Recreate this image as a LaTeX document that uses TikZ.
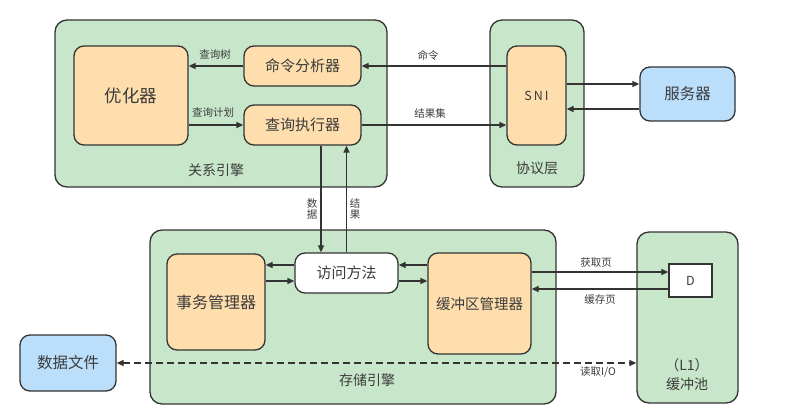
\documentclass[tikz,border=0pt]{standalone}
\usepackage{fontspec}
\setmainfont{Noto Sans CJK SC}
\usetikzlibrary{arrows.meta}
\definecolor{grn}{HTML}{C8E6C9}
\definecolor{org}{HTML}{FFDEAD}
\definecolor{blu}{HTML}{BBDEFB}
\definecolor{ln}{HTML}{333333}
\definecolor{tx}{HTML}{3C3C3C}
\tikzset{
  base/.style={draw=ln, line width=1.3pt, rounded corners=10pt, text=tx, inner sep=0pt},
  cont/.style={base, fill=grn, rounded corners=12pt},
  obox/.style={base, fill=org, font=\fontsize{15}{17}\selectfont},
  bbox/.style={base, fill=blu, font=\fontsize{15.5}{17}\selectfont},
  wbox/.style={base, fill=white, font=\fontsize{15}{17}\selectfont},
  arr/.style={draw=ln, line width=1.3pt, -{Triangle[length=7pt,width=6pt]}},
  lbl/.style={text=tx, font=\fontsize{10.5}{12}\selectfont, inner sep=0pt},
  clbl/.style={text=tx, font=\fontsize{14}{16}\selectfont, inner sep=0pt},
}
\begin{document}
\begin{tikzpicture}[x=1pt,y=-1pt]
\useasboundingbox (0,0) rectangle (792,420);
% containers
\node[cont, minimum width=332pt, minimum height=167pt] (rel) at (221,103.5) {};
\node[cont, minimum width=94pt, minimum height=167pt] (proto) at (537,103.5) {};
\node[cont, minimum width=406pt, minimum height=174pt] (store) at (353,317) {};
\node[cont, minimum width=101pt, minimum height=171pt] (pool) at (687.5,317.5) {};
% container labels
\node[clbl] (relL) at (216,170) {关系引擎};
\node[clbl] (protoL) at (537,168) {协议层};
\node[clbl] (storeL) at (367,380) {存储引擎};
\node[clbl] (poolL1) at (687,365) {（L1）};
\node[clbl] (poolL2) at (687,384) {缓冲池};
% boxes
\node[obox, minimum width=114pt, minimum height=99pt, font=\fontsize{17.5}{19}\selectfont] (opt) at (131,95.5) {优化器};
\node[obox, minimum width=117pt, minimum height=40pt] (cmd) at (302.5,66) {命令分析器};
\node[obox, minimum width=117pt, minimum height=40pt] (exe) at (302.5,125) {查询执行器};
\node[obox, minimum width=59pt, minimum height=99pt, font=\fontsize{12.5}{14}\selectfont] (sni) at (536.5,95.5) {S\,N\,I};
\node[bbox, minimum width=95pt, minimum height=54pt] (srv) at (687.5,94) {服务器};
\node[obox, minimum width=98pt, minimum height=96pt, font=\fontsize{16}{18}\selectfont] (tx) at (216,302) {事务管理器};
\node[wbox, minimum width=103pt, minimum height=40pt] (acc) at (346.5,273) {访问方法};
\node[obox, minimum width=103pt, minimum height=101pt, font=\fontsize{14.5}{16}\selectfont] (buf) at (479.5,303.5) {缓冲区管理器};
\node[draw=ln, line width=1.3pt, fill=white, text=tx, minimum width=43pt, minimum height=33pt, inner sep=0pt, font=\fontsize{12.5}{14}\selectfont] (D) at (690.5,280.5) {D};
\node[bbox, minimum width=96pt, minimum height=56pt] (file) at (68,363) {数据文件};
% connectors
\draw[arr] (sni.west |- cmd.east) -- (cmd.east);
\draw[arr] (exe.east) -- (exe.east -| sni.west);
\draw[arr] ([yshift=10pt]srv.west -| sni.east) -- ([yshift=10pt]srv.west);
\draw[arr] ([yshift=-15pt]srv.west) -- ([yshift=-15pt]srv.west -| sni.east);
\draw[arr] (cmd.west) -- (cmd.west -| opt.east);
\draw[arr] (opt.east |- exe.west) -- (exe.west);
\draw[arr] ([xshift=18.5pt]exe.south) -- ([xshift=18.5pt]exe.south |- acc.north);
\draw[arr] (acc.north) -- (acc.north |- exe.south);
\draw[arr] ([yshift=8pt]acc.west) -- ([yshift=8pt]acc.west -| tx.east);
\draw[arr] ([yshift=-8pt]acc.west -| tx.east) -- ([yshift=-8pt]acc.west);
\draw[arr] ([yshift=8pt]acc.east -| buf.west) -- ([yshift=8pt]acc.east);
\draw[arr] ([yshift=-8pt]acc.east) -- ([yshift=-8pt]acc.east -| buf.west);
\draw[arr] ([yshift=8.5pt]D.west -| buf.east) -- ([yshift=8.5pt]D.west);
\draw[arr] ([yshift=-8.5pt]D.west) -- ([yshift=-8.5pt]D.west -| buf.east);
\draw[arr, {Triangle[length=7pt,width=6pt]}-{Triangle[length=7pt,width=6pt]}, dash pattern=on 7pt off 4pt] (file.east) -- (file.east -| pool.west);
% connector labels
\node[lbl] (l1) at (428,55) {命令};
\node[lbl] (l2) at (430,113) {结果集};
\node[lbl] (l3) at (215,55) {查询树};
\node[lbl] (l4) at (213,113) {查询计划};
\node[lbl, align=center] (l5) at (312,209) {数\\[-1pt]据};
\node[lbl, align=center] (l6) at (355,209) {结\\[-1pt]果};
\node[lbl] (l7) at (596,263) {获取页};
\node[lbl] (l8) at (600,300) {缓存页};
\node[lbl] (l9) at (598,372) {读取I/O};
\end{tikzpicture}
\end{document}
